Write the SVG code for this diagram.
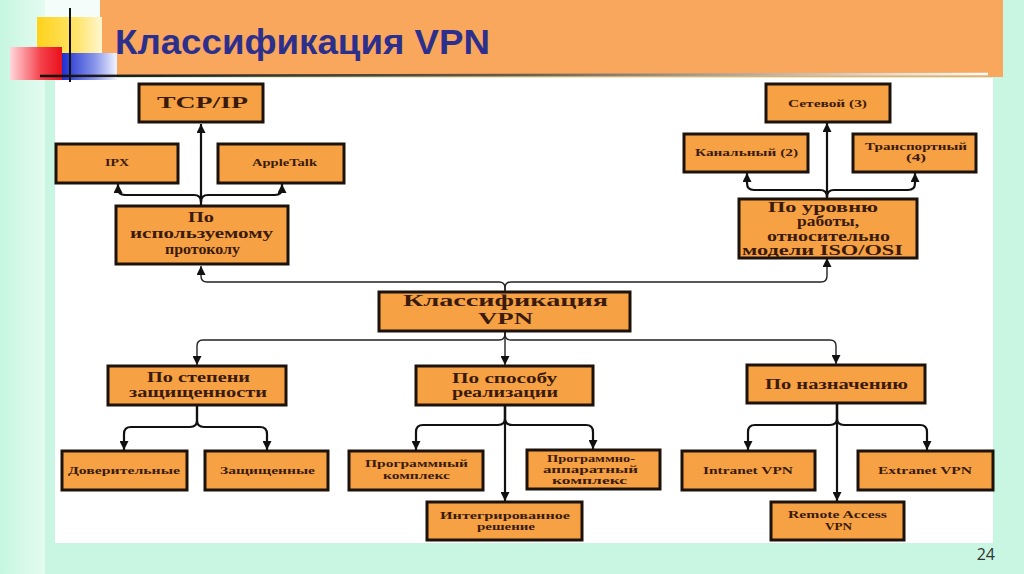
<svg xmlns="http://www.w3.org/2000/svg" width="1024" height="574" viewBox="0 0 1024 574">
<defs>
<linearGradient id="leftStrip" x1="0" y1="0" x2="1" y2="0">
<stop offset="0" stop-color="#c6f6e0"/><stop offset="1" stop-color="#e4fbf1"/>
</linearGradient>
<linearGradient id="yel" x1="0" y1="0" x2="1" y2="0">
<stop offset="0" stop-color="#ffd21a"/><stop offset="0.6" stop-color="#ffe468"/><stop offset="1" stop-color="#fff6d0"/>
</linearGradient>
<linearGradient id="red" x1="0" y1="0" x2="1" y2="0">
<stop offset="0" stop-color="#ffd8dc"/><stop offset="0.6" stop-color="#f5404a"/><stop offset="1" stop-color="#e8101c"/>
</linearGradient>
<linearGradient id="blue" x1="0" y1="0" x2="1" y2="0">
<stop offset="0" stop-color="#1e2fd0"/><stop offset="0.6" stop-color="#8a96ea"/><stop offset="1" stop-color="#f2f4ff"/>
</linearGradient>
<linearGradient id="rule" x1="0" y1="0" x2="1" y2="0">
<stop offset="0" stop-color="#111111"/><stop offset="0.5" stop-color="#6b5a4a"/><stop offset="1" stop-color="#ffffff"/>
</linearGradient>
<marker id="arr" viewBox="0 0 10 10" refX="10" refY="5" markerWidth="9" markerHeight="9" markerUnits="userSpaceOnUse" orient="auto">
<path d="M0,0 L10,5 L0,10 z" fill="#111"/>
</marker>
<style>
.box{fill:#f6a143;stroke:#1c120a;stroke-width:3}
.t{font-family:"Liberation Serif","DejaVu Serif",serif;font-weight:bold;fill:#3a1a0b;text-anchor:start}
.s{font-size:10.5px}
.m{font-size:15px}
.l{font-size:16px}
.c{fill:none;stroke:#111;stroke-width:2.2;marker-end:url(#arr)}
.ct{fill:none;stroke:#222;stroke-width:1.4;marker-end:url(#arr)}
</style>
</defs>

<!-- background -->
<rect x="0" y="0" width="1024" height="574" fill="#c8f6e2"/>
<rect x="0" y="0" width="45" height="574" fill="url(#leftStrip)"/>
<rect x="45" y="0" width="60" height="78" fill="#f4fdf9"/>
<rect x="100" y="0" width="903" height="77" fill="#f9a75c"/>
<rect x="55" y="78" width="938" height="465" fill="#ffffff"/>

<!-- title decoration -->
<rect x="37" y="17" width="65" height="36" fill="url(#yel)"/>
<rect x="10" y="47" width="52" height="33" fill="url(#red)"/>
<rect x="62" y="53" width="55" height="27" fill="url(#blue)"/>
<line x1="70" y1="8" x2="70" y2="82" stroke="#111" stroke-width="2"/>
<line x1="40" y1="76" x2="988" y2="74" stroke="url(#rule)" stroke-width="2.5"/>
<text x="115" y="54" font-family="Liberation Sans, Arial, sans-serif" font-weight="bold" font-size="35" fill="#2c2f8c" textLength="375" lengthAdjust="spacingAndGlyphs">Классификация VPN</text>
<text x="995" y="560" font-family="Open Sans, Liberation Sans, sans-serif" font-size="16" fill="#333" text-anchor="end">24</text>

<!-- connectors -->
<g id="connectors">
<path class="c" d="M201 205 V124"/>
<path class="c" d="M201 202 Q201 195 194 195 H125 Q118 195 118 188 V184"/>
<path class="c" d="M201 202 Q201 195 208 195 H275 Q282 195 282 188 V184"/>
<path class="c" d="M827 199 V123"/>
<path class="c" d="M827 197 Q827 190 820 190 H754 Q747 190 747 183 V173"/>
<path class="c" d="M827 197 Q827 190 834 190 H908 Q915 190 915 183 V173"/>
<path class="ct" d="M505 291 V288 Q505 282 499 282 H207 Q201 282 201 276 V266"/>
<path class="ct" d="M505 291 V288 Q505 282 511 282 H821 Q827 282 827 276 V258"/>
<path class="ct" d="M505 331 V334 Q505 340 499 340 H203 Q197 340 197 346 V365"/>
<path class="ct" d="M505 331 V365"/>
<path class="ct" d="M505 331 V334 Q505 340 511 340 H830 Q836 340 836 346 V364"/>
<path class="c" d="M197 405 V420 Q197 427 190 427 H131 Q124 427 124 434 V450"/>
<path class="c" d="M197 405 V420 Q197 427 204 427 H260 Q267 427 267 434 V450"/>
<path class="c" d="M505 405 V418 Q505 425 498 425 H423 Q416 425 416 432 V450"/>
<path class="c" d="M505 405 V418 Q505 425 512 425 H586 Q593 425 593 432 V449"/>
<path class="c" d="M505 405 V501"/>
<path class="c" d="M837 403 V418 Q837 425 830 425 H755 Q748 425 748 432 V450"/>
<path class="c" d="M837 403 V418 Q837 425 844 425 H920 Q927 425 927 432 V450"/>
<path class="c" d="M837 403 V501"/>
</g>

<!-- nodes -->
<g id="n-tcpip"><rect class="box" x="139" y="84" width="124" height="38"/>
<text class="t l" x="157" y="108" textLength="91" lengthAdjust="spacingAndGlyphs">TCP/IP</text></g>
<g id="n-ipx"><rect class="box" x="56" y="144" width="122" height="39"/>
<text class="t s" x="105" y="166" textLength="24" lengthAdjust="spacingAndGlyphs">IPX</text></g>
<g id="n-appletalk"><rect class="box" x="218" y="144" width="126" height="39"/>
<text class="t s" x="252" y="166" textLength="65" lengthAdjust="spacingAndGlyphs">AppleTalk</text></g>
<g id="n-protocol"><rect class="box" x="116" y="206" width="172" height="58"/>
<text class="t m" x="188" y="222" textLength="26" lengthAdjust="spacingAndGlyphs">По</text>
<text class="t m" x="130" y="238" textLength="143" lengthAdjust="spacingAndGlyphs">используемому</text>
<text class="t m" x="165" y="254" textLength="75" lengthAdjust="spacingAndGlyphs">протоколу</text></g>

<g id="n-network"><rect class="box" x="766" y="84" width="124" height="38"/>
<text class="t s" x="788" y="107" textLength="79" lengthAdjust="spacingAndGlyphs">Сетевой (3)</text></g>
<g id="n-channel"><rect class="box" x="684" y="134" width="124" height="38"/>
<text class="t s" x="695" y="156" textLength="103" lengthAdjust="spacingAndGlyphs">Канальный (2)</text></g>
<g id="n-transport"><rect class="box" x="853" y="134" width="123" height="38"/>
<text class="t s" x="865" y="150" textLength="102" lengthAdjust="spacingAndGlyphs">Транспортный</text>
<text class="t s" x="906" y="161" textLength="20" lengthAdjust="spacingAndGlyphs">(4)</text></g>
<g id="n-osi"><rect class="box" x="739" y="199" width="178" height="59"/>
<text class="t m" x="768" y="212" textLength="110" lengthAdjust="spacingAndGlyphs">По уровню</text>
<text class="t m" x="797" y="226" textLength="62" lengthAdjust="spacingAndGlyphs">работы,</text>
<text class="t m" x="767" y="241" textLength="123" lengthAdjust="spacingAndGlyphs">относительно</text>
<text class="t m" x="742" y="255" textLength="161" lengthAdjust="spacingAndGlyphs">модели ISO/OSI</text></g>

<g id="n-root"><rect class="box" x="379" y="292" width="251" height="39"/>
<text class="t l" x="403" y="306" textLength="205" lengthAdjust="spacingAndGlyphs">Классификация</text>
<text class="t l" x="478" y="324" textLength="55" lengthAdjust="spacingAndGlyphs">VPN</text></g>

<g id="n-security"><rect class="box" x="108" y="366" width="178" height="39"/>
<text class="t m" x="147" y="382" textLength="103" lengthAdjust="spacingAndGlyphs">По степени</text>
<text class="t m" x="129" y="397" textLength="138" lengthAdjust="spacingAndGlyphs">защищенности</text></g>
<g id="n-impl"><rect class="box" x="416" y="366" width="177" height="39"/>
<text class="t m" x="452" y="383" textLength="105" lengthAdjust="spacingAndGlyphs">По способу</text>
<text class="t m" x="452" y="397" textLength="106" lengthAdjust="spacingAndGlyphs">реализации</text></g>
<g id="n-purpose"><rect class="box" x="747" y="365" width="178" height="38"/>
<text class="t m" x="765" y="389" textLength="143" lengthAdjust="spacingAndGlyphs">По назначению</text></g>

<g id="n-trusted"><rect class="box" x="62" y="451" width="125" height="39"/>
<text class="t s" x="68" y="474" textLength="112" lengthAdjust="spacingAndGlyphs">Доверительные</text></g>
<g id="n-secured"><rect class="box" x="205" y="451" width="123" height="39"/>
<text class="t s" x="220" y="474" textLength="95" lengthAdjust="spacingAndGlyphs">Защищенные</text></g>
<g id="n-software"><rect class="box" x="349" y="451" width="134" height="39"/>
<text class="t s" x="365" y="467" textLength="103" lengthAdjust="spacingAndGlyphs">Программный</text>
<text class="t s" x="383" y="479" textLength="67" lengthAdjust="spacingAndGlyphs">комплекс</text></g>
<g id="n-hwsw"><rect class="box" x="527" y="450" width="133" height="39"/>
<text class="t s" x="547" y="462" textLength="88" lengthAdjust="spacingAndGlyphs">Программно-</text>
<text class="t s" x="543" y="473" textLength="95" lengthAdjust="spacingAndGlyphs">аппаратный</text>
<text class="t s" x="552" y="484" textLength="75" lengthAdjust="spacingAndGlyphs">комплекс</text></g>
<g id="n-integrated"><rect class="box" x="427" y="502" width="155" height="38"/>
<text class="t s" x="440" y="519" textLength="130" lengthAdjust="spacingAndGlyphs">Интегрированное</text>
<text class="t s" x="477" y="530" textLength="58" lengthAdjust="spacingAndGlyphs">решение</text></g>

<g id="n-intranet"><rect class="box" x="682" y="451" width="133" height="39"/>
<text class="t s" x="703" y="474" textLength="90" lengthAdjust="spacingAndGlyphs">Intranet VPN</text></g>
<g id="n-extranet"><rect class="box" x="858" y="451" width="135" height="39"/>
<text class="t s" x="878" y="474" textLength="94" lengthAdjust="spacingAndGlyphs">Extranet VPN</text></g>
<g id="n-remote"><rect class="box" x="771" y="502" width="133" height="38"/>
<text class="t s" x="788" y="518" textLength="99" lengthAdjust="spacingAndGlyphs">Remote Access</text>
<text class="t s" x="825" y="530" textLength="27" lengthAdjust="spacingAndGlyphs">VPN</text></g>
</svg>
